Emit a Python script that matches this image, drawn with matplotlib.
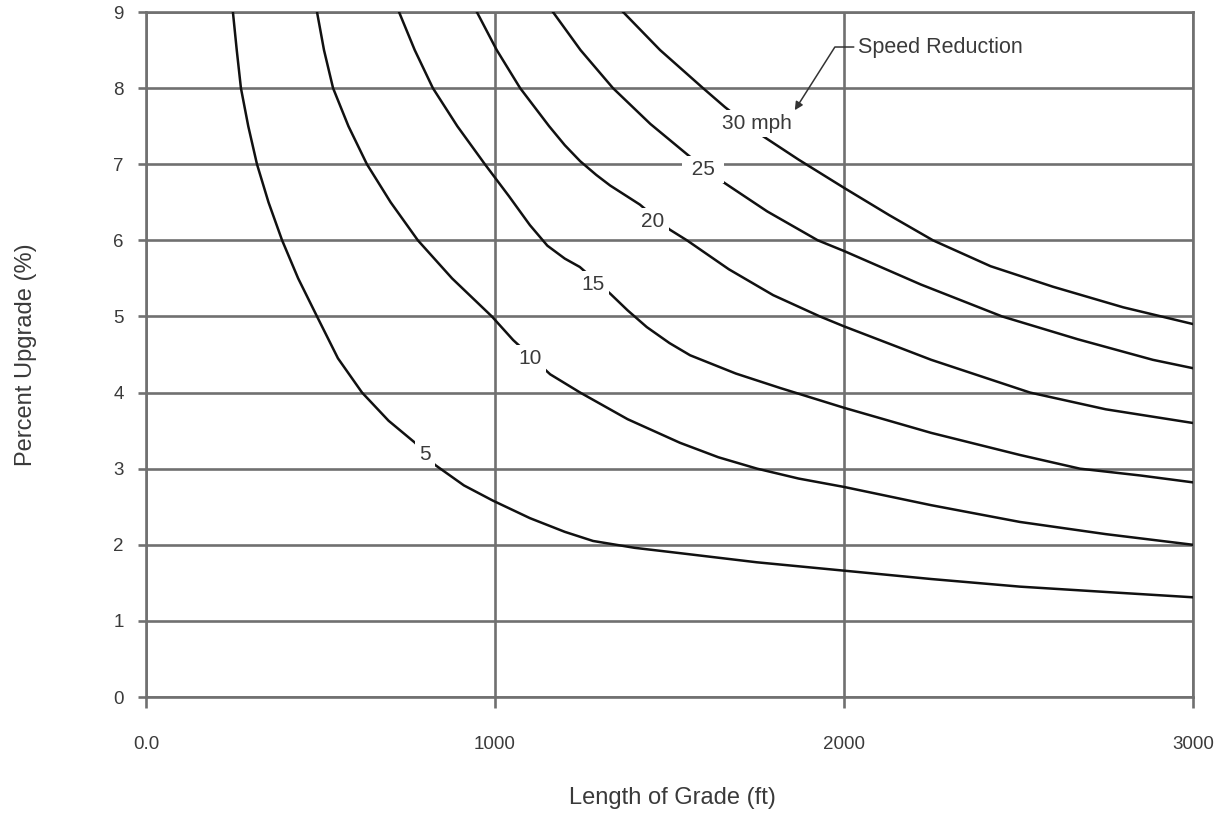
import matplotlib
matplotlib.use('Agg')
import matplotlib.pyplot as plt

plt.rcParams['font.family'] = ['Liberation Sans', 'DejaVu Sans']

# curves: length of grade (ft) vs percent upgrade
c5_x = [249, 260, 272, 293, 318, 351, 390, 436, 490, 550, 619, 695, 771, 828, 911, 994,
        1100, 1200, 1281, 1400, 1530, 1750, 2000, 2250, 2504, 2750, 3000]
c5_y = [9.0, 8.5, 8.0, 7.5, 7.0, 6.5, 6.0, 5.5, 5.0, 4.45, 4.0, 3.63, 3.34, 3.05, 2.78, 2.58,
        2.35, 2.17, 2.05, 1.96, 1.89, 1.77, 1.66, 1.55, 1.45, 1.38, 1.31]

c10_x = [490, 510, 536, 580, 633, 701, 779, 877, 991, 1052, 1158, 1244, 1380, 1530, 1640,
         1751, 1870, 2000, 2250, 2504, 2750, 3000]
c10_y = [9.0, 8.5, 8.0, 7.5, 7.0, 6.5, 6.0, 5.5, 5.0, 4.69, 4.24, 4.0, 3.65, 3.34, 3.15,
         3.0, 2.87, 2.76, 2.52, 2.30, 2.14, 2.0]

c15_x = [725, 770, 822, 892, 971, 1040, 1100, 1150, 1200, 1243, 1330, 1380, 1435, 1500, 1559,
         1690, 1817, 2000, 2250, 2504, 2676, 2850, 3000]
c15_y = [9.0, 8.5, 8.0, 7.5, 7.0, 6.58, 6.2, 5.93, 5.76, 5.65, 5.30, 5.08, 4.86, 4.65, 4.49,
         4.25, 4.06, 3.80, 3.47, 3.18, 3.0, 2.91, 2.82]

c20_x = [948, 1005, 1072, 1155, 1200, 1244, 1290, 1330, 1415, 1501, 1550, 1670, 1797, 1931,
         2000, 2250, 2533, 2750, 3000]
c20_y = [9.0, 8.5, 8.0, 7.5, 7.25, 7.04, 6.86, 6.72, 6.47, 6.14, 6.0, 5.62, 5.28, 5.0,
         4.87, 4.43, 4.0, 3.78, 3.60]

c25_x = [1166, 1245, 1338, 1445, 1553, 1636, 1780, 1925, 2000, 2220, 2453, 2670, 2885, 3000]
c25_y = [9.0, 8.5, 8.0, 7.53, 7.12, 6.82, 6.38, 6.0, 5.86, 5.42, 5.0, 4.70, 4.43, 4.32]

c30_x = [1367, 1473, 1596, 1659, 1754, 1870, 2000, 2130, 2255, 2420, 2599, 2800, 3000]
c30_y = [9.0, 8.5, 8.0, 7.75, 7.41, 7.06, 6.69, 6.33, 6.0, 5.66, 5.39, 5.12, 4.90]

curve_labels = ['5', '10', '15', '20', '25', '30 mph']
label_x = [800, 1100, 1281, 1453, 1596, 1751]
label_y = [3.21, 4.47, 5.45, 6.27, 6.96, 7.56]

x_ticks = [0, 1000, 2000, 3000]
x_ticklabels = ['0.0', '1000', '2000', '3000']
y_ticks = list(range(0, 10))

grid_c = '#707070'
text_c = '#3a3a3a'

fig = plt.figure(figsize=(12.17, 8.14), dpi=100)
ax = fig.add_axes([146/1217, 1 - 697/814, 1047/1217, 685/814])

for xs, ys in [(c5_x, c5_y), (c10_x, c10_y), (c15_x, c15_y),
               (c20_x, c20_y), (c25_x, c25_y), (c30_x, c30_y)]:
    ax.plot(xs, ys, color='#111111', lw=1.8, zorder=3, solid_joinstyle='round')

for lab, lx, ly in zip(curve_labels, label_x, label_y):
    if lab == '25':
        lab = ' 25 '
    ax.text(lx, ly, lab, fontsize=15, color=text_c, ha='center', va='center_baseline',
            zorder=5, bbox=dict(boxstyle='square,pad=0.2', fc='white', ec='none'))

ax.annotate('Speed Reduction', xy=(1859, 7.71), xytext=(2040, 8.54),
            fontsize=15.5, color=text_c, ha='left', va='center',
            arrowprops=dict(arrowstyle='-|>', color='#333333', lw=1.1,
                            connectionstyle='angle,angleA=0,angleB=57.6,rad=0',
                            relpos=(0, 0.5), shrinkA=1, shrinkB=0, mutation_scale=12))

ax.set_xlim(0, 3000)
ax.set_ylim(0, 9)
ax.set_xticks(x_ticks)
ax.set_xticklabels(x_ticklabels)
ax.set_yticks(y_ticks)

ax.set_axisbelow(True)
ax.grid(True, color=grid_c, lw=1.9)
for s in ax.spines.values():
    s.set_color(grid_c)
    s.set_linewidth(1.9)

ax.tick_params(axis='both', color=grid_c, width=1.9, labelcolor=text_c, labelsize=13.5)
ax.tick_params(axis='x', length=8, pad=20)
ax.tick_params(axis='y', length=6, pad=10)

ax.set_xlabel('Length of Grade (ft)', fontsize=17, color=text_c)
ax.set_ylabel('Percent Upgrade (%)', fontsize=17, color=text_c)
ax.xaxis.set_label_coords(0.503, -0.132)
ax.yaxis.set_label_coords(-0.104, 0.5)

fig.savefig('out.png', dpi=100, facecolor='white')
